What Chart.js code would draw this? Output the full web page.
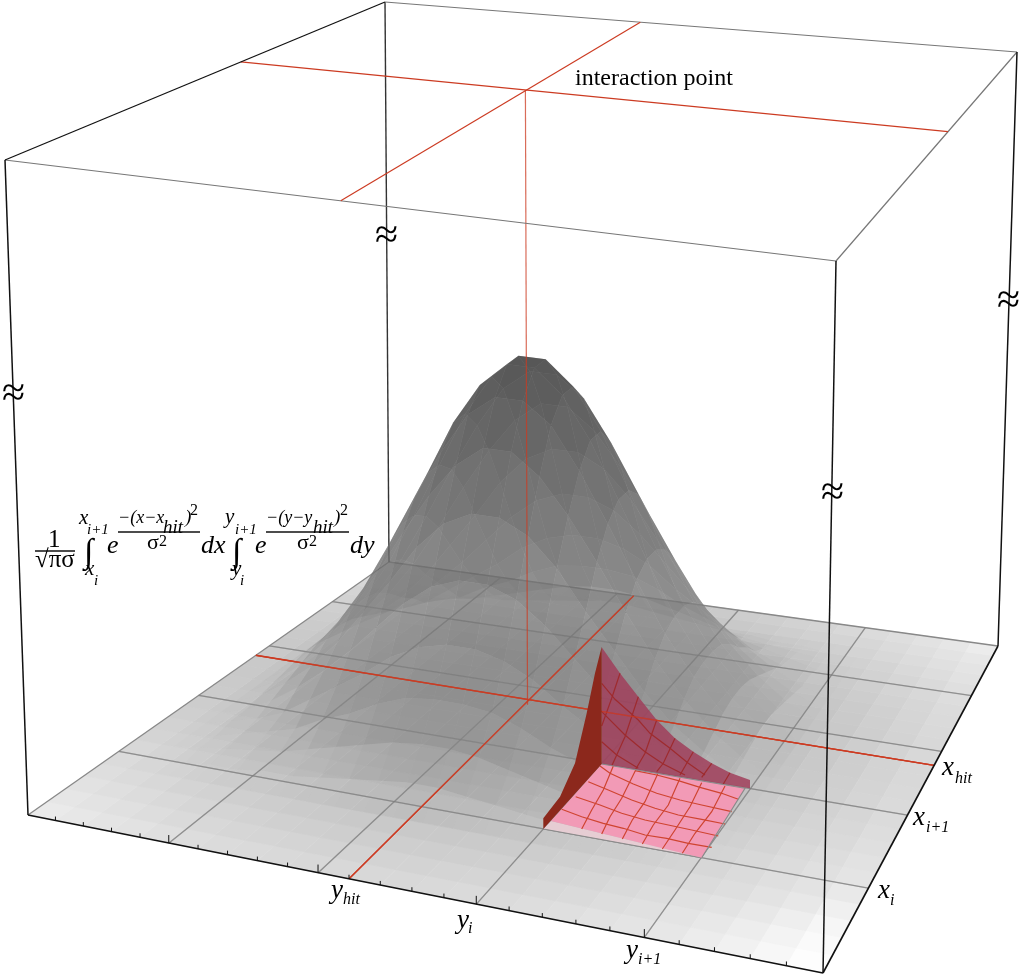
<!DOCTYPE html>
<html><head><meta charset="utf-8">
<style>html,body{margin:0;padding:0;background:#fff}canvas{display:block}</style>
<script src="https://cdn.jsdelivr.net/npm/chart.js@4/dist/chart.umd.min.js"></script>
</head><body><canvas id="c" width="1024" height="976"></canvas>
<script>
// Box corners: [front-left, front, right, back]
const floorCorners=[[28,815],[823,973],[998,646],[389,562]];
const topCorners=[[5,160],[836,261],[1017,52],[385,2]];
const gridCells=[1,2,3,4];
// Red guide lines: cell position at each end of the line
const floorHitU=[2.2,2.14], floorHitV=[2.8,2.77];
const topHitU=[2.23,2.17], topHitV=[2.73,2.66];
const peakU=2.19, peakV=2.7, peakHeight=0.558;
const meshSize=25;
const bumpFirstU=1.45, bumpFirstV=4;
// Surface heights in percent of the peak
const bumpHeights=[
[0,0,0,0,0,0,0,0,0,0,0,0,0,0,0,0,0,0,0,0],
[0,0,1,1,2,2,3,4,5,6,6,5,4,3,2,2,1,1,0,0],
[0,1,2,3,4,6,8,10,12,13,13,12,10,8,6,4,3,2,1,0],
[0,1,3,5,7,11,14,18,21,22,22,21,18,14,11,7,5,3,1,0],
[0,2,4,7,12,17,22,28,32,34,34,32,28,22,17,12,7,4,2,0],
[0,2,6,11,17,24,32,40,46,49,49,46,40,32,24,17,11,6,2,0],
[0,3,8,14,22,32,42,53,61,65,65,61,53,42,32,22,14,8,3,0],
[0,4,10,18,28,40,53,65,75,81,81,75,65,53,40,28,18,10,4,0],
[0,5,12,21,32,46,61,75,87,93,93,87,75,61,46,32,21,12,5,0],
[0,6,13,22,34,49,65,81,93,100,100,93,81,65,49,34,22,13,6,0],
[0,6,13,22,34,49,65,81,93,100,100,93,81,65,49,34,22,13,6,0],
[0,5,12,21,32,46,61,75,87,93,93,87,75,61,46,32,21,12,5,0],
[0,4,10,18,28,40,53,65,75,81,81,75,65,53,40,28,18,10,4,0],
[0,3,8,14,22,32,42,53,61,65,65,61,53,42,32,22,14,8,3,0],
[0,2,6,11,17,24,32,40,46,49,49,46,40,32,24,17,11,6,2,0],
[0,2,4,7,12,17,22,28,32,34,34,32,28,22,17,12,7,4,2,0],
[0,1,3,5,7,11,14,18,21,22,22,21,18,14,11,7,5,3,1,0],
[0,1,2,3,4,6,8,10,12,13,13,12,10,8,6,4,3,2,1,0],
[0,0,1,1,2,2,3,4,5,6,6,5,4,3,2,2,1,1,0,0],
[0,0,0,0,0,0,0,0,0,0,0,0,0,0,0,0,0,0,0,0]];
// Floor tile grey levels, front row first
const floorGreys=[
[234,231,228,226,223,221,219,218,217,216,216,216,216,217,218,219,221,223,226,228,231,236,241,247,253],
[230,227,224,221,218,216,214,213,212,211,211,211,211,212,213,214,216,218,221,224,228,232,237,243,250],
[226,223,220,217,214,212,210,208,207,206,206,206,206,207,208,210,212,214,217,220,224,227,232,238,246],
[222,219,216,212,210,207,205,203,202,201,201,201,201,202,203,205,207,210,212,216,219,222,227,232,240],
[219,215,212,209,206,203,201,199,197,196,196,196,196,197,199,201,203,206,209,212,215,219,223,227,233],
[216,212,208,205,202,199,196,194,192,191,191,191,191,192,194,196,199,202,205,208,212,216,220,224,228],
[212,209,205,201,198,194,191,189,187,186,186,186,186,187,189,191,194,198,201,205,209,212,217,221,226],
[210,206,202,198,194,191,187,185,183,181,181,181,181,183,185,187,191,194,198,202,206,210,214,218,223],
[207,203,199,194,191,187,183,181,178,176,176,176,176,178,181,183,187,191,194,199,203,207,212,216,221],
[205,201,196,191,187,183,180,176,174,172,171,171,172,174,176,180,183,187,191,196,201,205,210,214,219],
[203,199,194,189,185,181,176,173,170,168,168,168,168,170,173,176,181,185,189,194,199,203,208,213,218],
[202,197,192,187,183,178,174,170,168,168,168,168,168,168,170,174,178,183,187,192,197,202,207,212,217],
[201,196,191,186,181,176,172,168,168,168,168,168,168,168,168,172,176,181,186,191,196,201,206,211,216],
[201,196,191,186,181,176,171,168,168,168,168,168,168,168,168,171,176,181,186,191,196,201,206,211,216],
[201,196,191,186,181,176,171,168,168,168,168,168,168,168,168,171,176,181,186,191,196,201,206,211,216],
[201,196,191,186,181,176,172,168,168,168,168,168,168,168,168,172,176,181,186,191,196,201,206,211,216],
[202,197,192,187,183,178,174,170,168,168,168,168,168,168,170,174,178,183,187,192,197,202,207,212,217],
[203,199,194,189,185,181,176,173,170,168,168,168,168,170,173,176,181,185,189,194,199,203,208,213,218],
[205,201,196,191,187,183,180,176,174,172,171,171,172,174,176,180,183,187,191,196,201,205,210,214,219],
[207,203,199,194,191,187,183,181,178,176,176,176,176,178,181,183,187,191,194,199,203,207,212,216,221],
[210,206,202,198,194,191,187,185,183,181,181,181,181,183,185,187,191,194,198,202,206,210,214,218,223],
[212,209,205,201,198,194,191,189,187,186,186,186,186,187,189,191,194,198,201,205,209,212,217,221,226],
[216,212,208,205,202,199,196,194,192,191,191,191,191,192,194,196,199,202,205,208,212,216,220,224,228],
[219,215,212,209,206,203,201,199,197,196,196,196,196,197,199,201,203,206,209,212,215,219,223,227,231],
[222,219,216,212,210,207,205,203,202,201,201,201,201,202,203,205,207,210,212,216,219,222,226,230,236]];
// Integration patch
const patchShadow=[[543.3,829],[551,821],[701.7,857.7]];
const patchBase=[[601.7,764],[745,788.3],[701.7,857.7],[551,821]];
const patchWallBack=[[601.7,647.3],[620,673.3],[638.3,696.7],[656.7,720],[675,738.3],[693.3,751.7],[711.7,763.3],[730,772.7],[750,780],[750,788.3],[601.7,764]];
const patchWallLeft=[[601.7,646.7],[595,673.3],[586.7,713.3],[575,763.3],[560,796.7],[543.3,818.3],[543.3,829],[601.7,764]];
const patchBaseLinesA=[
[[635,770.7],[656.7,775],[678.3,780.7],[700,787.3],[721.7,793.3],[738.3,799.3]],
[[600,766],[610,773.3],[633.3,784],[656.7,793.3],[680,800],[701.7,805],[731.7,811.7]],
[[588.3,781.7],[608.3,790],[631.7,800],[655,808.3],[678.3,815],[701.7,819.3],[725,824]],
[[575.7,796.7],[600,805],[621.7,813.3],[645,820],[668.3,825],[691.7,830],[718.3,836]],
[[561.7,809.3],[581.7,816.7],[603.3,823.3],[623.3,828.3],[645,835],[666.7,838.3],[688.3,843.3],[711.7,847.3]]];
const patchBaseLinesB=[
[[613.3,766],[603.3,790],[591.7,810],[581.7,829]],
[[635.7,770],[621.7,798.3],[610,816.7],[601.7,834]],
[[657.7,774],[645,801.7],[632.3,820],[622.3,839]],
[[680,778.3],[668.3,805],[653.3,825],[642.3,844]],
[[701.7,782.7],[690,806.7],[675,830],[662.3,849]],
[[725,786],[711.7,811.7],[695,833.3],[682.3,853.3]]];
const patchWallLinesUp=[
[[620,673.3],[611.7,698.3],[601.7,726]],
[[638.3,696.7],[625,736.7],[611.7,766]],
[[656.7,720],[645,753.3],[635.7,769.3]],
[[675,738.3],[663.3,763.3],[656.7,771.7]],
[[693.3,751.7],[680,775]],
[[711.7,763.3],[701.7,777.3]],
[[730,772.7],[723.3,784]]];
const patchWallLinesAcross=[
[[601.7,683.3],[615,699.3],[638.3,720],[650,733.3],[670,748.3],[688.3,763.3],[705,775]],
[[601.7,711.7],[625,735],[645,751.7],[663.3,764],[685,775]],
[[601.7,741.7],[616.7,755],[638.3,768.3]]];
// Texts
const labelTexts=["interaction point","≈","≈","≈","≈",
"y","hit","y","i","y","i+1","x","hit","x","i+1","x","i",
"1","√πσ","x","i+1","∫","x","i","e","−(x−x","hit",")","2","σ","2","dx",
"y","i+1","∫","y","i","e","−(y−y","hit",")","2","σ","2","dy"];
// [x, y, size, italic?]  matching labelTexts one by one
const labelPlaces=[[575,85,24,0],[2,406,42,0],[375,248,42,0],[821,505,42,0],[997,313,42,0],
[331,898,27,1],[343,904,16,1],[457,928,27,1],[468,933,16,1],[626,958,27,1],[638,964,16,1],
[942,775,27,1],[955,783,16,1],[913,825,27,1],[926,832,16,1],[878,898,27,1],[890,905,16,1],
[48,547,25,0],[35,567,25,0],[79,524,21,1],[87,534,15,1],[84,562,34,0],[85,575,21,1],[94,585,15,1],
[107,553,26,1],[118,523,18,1],[163,533,19,1],[185,523,19,1],[190,515,16,0],[147,549,22,0],[159,546,16,0],[201,553,26,1],
[225,523,21,1],[235,534,15,1],[232,562,34,0],[232,575,21,1],[240,585,15,1],
[255,553,26,1],[266,523,18,1],[313,533,19,1],[334,523,19,1],[340,515,16,0],[297,549,22,0],[309,546,16,0],[350,553,26,1]];
const fractionBars=[[[35,551],[75,551]],[[118,532],[200,532]],[[266,532],[349,532]]];

function homography(q){
  const [x0,y0]=q[0],[x1,y1]=q[1],[x2,y2]=q[2],[x3,y3]=q[3];
  const dx1=x1-x2,dx2=x3-x2,sx=x0-x1+x2-x3,dy1=y1-y2,dy2=y3-y2,sy=y0-y1+y2-y3;
  const det=dx1*dy2-dx2*dy1,g=(sx*dy2-dx2*sy)/det,h=(dx1*sy-sx*dy1)/det;
  const a=x1-x0+g*x1,b=x3-x0+h*x3,d=y1-y0+g*y1,e=y3-y0+h*y3;
  return (u,v)=>{const w=g*u+h*v+1;return [(a*u+b*v+x0)/w,(d*u+e*v+y0)/w];};
}
const floorH=homography(floorCorners),topH=homography(topCorners);
function proj(cu,cv,z){ // cu,cv in cells 0..5, z 0..1
  const p=floorH(cu/5,cv/5),t=topH(cu/5,cv/5);
  return [p[0]+(t[0]-p[0])*z,p[1]+(t[1]-p[1])*z];
}
const ds=[];
const pts=a=>a.map(p=>({x:p[0],y:p[1]}));
function addPoly(a,fill,edge,ew){ds.push({data:pts(a),showLine:true,pointRadius:0,tension:0,fill:'shape',backgroundColor:fill,borderColor:edge||'transparent',borderWidth:ew||0,clip:false,borderJoinStyle:'round'});}
function addLine(a,col,w){ds.push({data:pts(a),showLine:true,pointRadius:0,tension:0,fill:false,borderColor:col,borderWidth:w,clip:false});}
const cell=5/meshSize;
// floor tiles
floorGreys.forEach((row,j)=>row.forEach((g,i)=>{
  const c=`rgb(${g},${g},${g})`;
  addPoly([proj(i*cell,j*cell,0),proj((i+1)*cell,j*cell,0),proj((i+1)*cell,(j+1)*cell,0),proj(i*cell,(j+1)*cell,0)],c,c,0.8);
}));
const GRID='rgba(125,125,125,0.75)',RED='#cc3b22',BLACK='#111';
const floorRedU=[proj(floorHitU[0],0,0),proj(floorHitU[1],5,0)];
const floorRedV=[proj(0,floorHitV[0],0),proj(5,floorHitV[1],0)];
// grid
gridCells.forEach(c=>{addLine([proj(c,0,0),proj(c,5,0)],GRID,1.3);addLine([proj(0,c,0),proj(5,c,0)],GRID,1.3);});
addLine([floorCorners[3],floorCorners[0]],'#888',1.3);
addLine([floorCorners[3],floorCorners[2]],'#888',1.3);
addLine([floorCorners[3],topCorners[3]],'#333',1.4);
addLine(floorRedU,RED,1.4);
addLine(floorRedV,RED,1.4);
// bump, back to front
const H=bumpHeights;
for(let j=H.length-2;j>=0;j--){for(let i=0;i<H[j].length-1;i++){
  const zs=[H[j][i],H[j][i+1],H[j+1][i+1],H[j+1][i]];
  const avg=(zs[0]+zs[1]+zs[2]+zs[3])/400;
  if(avg<=0)continue;
  const g=Math.round(155-105*avg),a=Math.min(1,avg*7)*0.58;
  const u0=(i+bumpFirstU)*cell,u1=(i+1+bumpFirstU)*cell,v0=(j+bumpFirstV)*cell,v1=(j+1+bumpFirstV)*cell;
  addPoly([proj(u0,v0,zs[0]/100*peakHeight),proj(u1,v0,zs[1]/100*peakHeight),proj(u1,v1,zs[2]/100*peakHeight),proj(u0,v1,zs[3]/100*peakHeight)],`rgba(${g},${g},${g},${a})`);
}}
// grid seen through the surface
gridCells.forEach(c=>{addLine([proj(c,0,0),proj(c,5,0)],'rgba(125,125,125,0.3)',1.1);addLine([proj(0,c,0),proj(5,c,0)],'rgba(125,125,125,0.3)',1.1);});
addLine(floorRedU,'rgba(204,59,34,0.85)',1.3);
addLine(floorRedV,'rgba(204,59,34,0.85)',1.3);
addLine([proj(peakU,peakV,0),proj(peakU,peakV,1)],'rgba(204,59,34,0.75)',1.2);
// patch
addPoly(patchShadow,'#e6cdd3');
addLine([patchShadow[0],patchShadow[2]],'#8a8a8a',1.1);
addPoly(patchBase,'#f29ab6');
patchBaseLinesA.concat(patchBaseLinesB).forEach(l=>addLine(l,'#cf4430',1.2));
addPoly(patchWallBack,'rgba(160,62,90,0.85)');
patchWallLinesUp.concat(patchWallLinesAcross).forEach(l=>addLine(l,'#9e2b2e',1.2));
addLine([patchBase[0],patchBase[1],patchBase[2]],'#8a8a8a',1.1);
addLine(floorRedV,'rgba(204,59,34,0.75)',1.3);
addPoly(patchWallLeft,'#8c281c');
// top frame
addLine([topCorners[0],topCorners[1]],'#777',1.2);
addLine([topCorners[1],topCorners[2]],'#777',1.2);
addLine([topCorners[2],topCorners[3]],'#777',1.2);
addLine([proj(topHitU[0],0,1),proj(topHitU[1],5,1)],RED,1.2);
addLine([proj(0,topHitV[0],1),proj(5,topHitV[1],1)],RED,1.2);
addLine([topCorners[3],topCorners[0]],BLACK,1.3);
// ticks on the front edge
for(let t=1;t<meshSize;t++){const c=t*cell,major=t%5===0;addLine([proj(c,0,0),proj(c,0,major?0.012:0.006)],BLACK,1);}
addLine([floorCorners[0],floorCorners[1]],BLACK,1.6);
addLine([floorCorners[1],floorCorners[2]],BLACK,1.6);
addLine([floorCorners[0],topCorners[0]],BLACK,1.5);
addLine([floorCorners[1],topCorners[1]],BLACK,1.5);
addLine([floorCorners[2],topCorners[2]],BLACK,1.5);
fractionBars.forEach(b=>addLine(b,BLACK,1.6));
ds.forEach((d,i)=>{d.order=ds.length-i;});

const textPlugin={id:'texts',afterDatasetsDraw(chart){
  const c=chart.ctx,X=chart.scales.x,Y=chart.scales.y;
  c.save();c.fillStyle='#000';c.textBaseline='alphabetic';c.textAlign='left';
  labelTexts.forEach((t,i)=>{const p=labelPlaces[i];
    c.font=(p[3]?'italic ':'')+p[2]+'px "Liberation Serif"';
    c.fillText(t,X.getPixelForValue(p[0]),Y.getPixelForValue(p[1]));});
  c.restore();
}};
new Chart(document.getElementById('c'),{type:'scatter',data:{datasets:ds},plugins:[textPlugin],options:{
  responsive:false,animation:false,events:[],layout:{padding:0},
  plugins:{legend:{display:false},tooltip:{enabled:false},title:{display:false}},
  scales:{x:{type:'linear',min:0,max:1024,display:false},y:{type:'linear',min:0,max:976,reverse:true,display:false}}
}});
</script></body></html>
